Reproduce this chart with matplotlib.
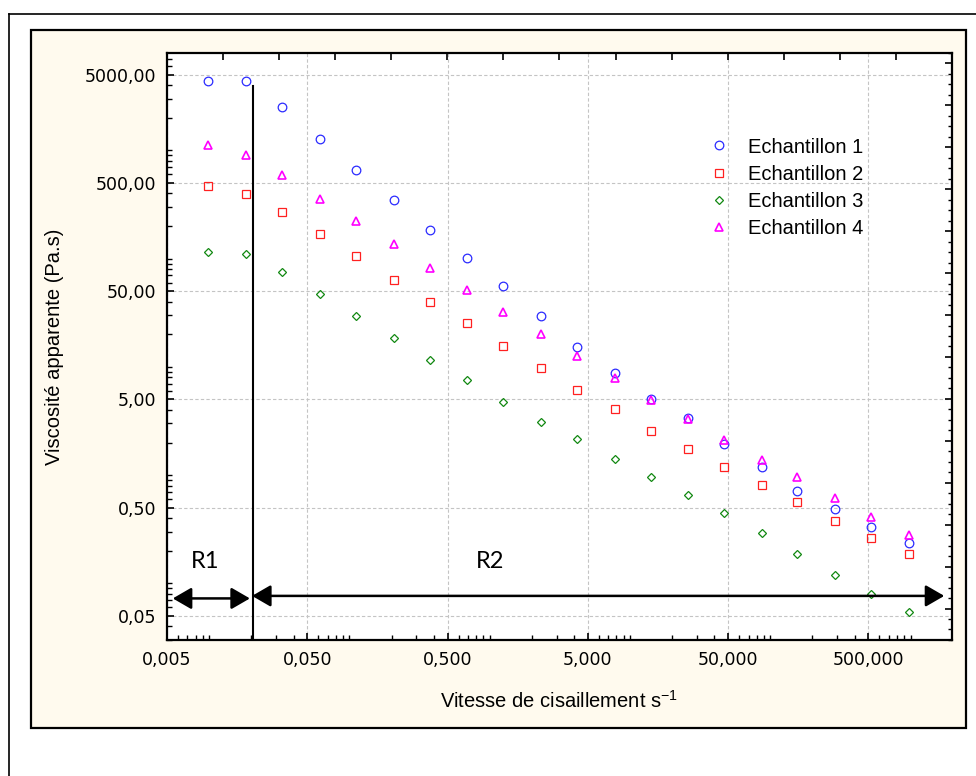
import matplotlib.pyplot as plt
from matplotlib.ticker import FixedLocator, FixedFormatter, LogLocator, NullFormatter
from matplotlib.patches import Rectangle
from matplotlib.lines import Line2D

# vitesse de cisaillement (s-1)
shear = [0.0098, 0.0184, 0.0331, 0.0615, 0.111, 0.207, 0.372, 0.693, 1.24, 2.32,
         4.18, 7.76, 14.0, 26.1, 46.9, 86.9, 156, 291, 523, 975]

# viscosite apparente (Pa.s)
ech1 = [4370, 4370, 2530, 1281, 652, 345, 184, 101, 56.1, 29.6,
        15.1, 8.75, 5.03, 3.40, 1.94, 1.18, 0.719, 0.487, 0.332, 0.235]
ech2 = [468, 395, 269, 170, 105.5, 63.7, 39.9, 25.2, 15.6, 9.86,
        6.17, 4.07, 2.55, 1.74, 1.19, 0.812, 0.560, 0.380, 0.261, 0.186]
ech3 = [115, 110, 75.6, 47.3, 29.6, 18.6, 11.6, 7.64, 4.78, 3.12,
        2.15, 1.41, 0.963, 0.657, 0.448, 0.294, 0.185, 0.120, 0.079, 0.054]
ech4 = [1111, 898, 592, 357, 224, 135, 81.8, 51.2, 32.0, 20.1,
        12.65, 7.97, 4.99, 3.31, 2.10, 1.39, 0.953, 0.620, 0.408, 0.278]

labels = ["Echantillon 1", "Echantillon 2", "Echantillon 3", "Echantillon 4"]

xticks = [0.005, 0.05, 0.5, 5, 50, 500]
xticklabels = ["0,005", "0,050", "0,500", "5,000", "50,000", "500,000"]
yticks = [0.05, 0.5, 5, 50, 500, 5000]
yticklabels = ["0,05", "0,50", "5,00", "50,00", "500,00", "5000,00"]
xlim = (0.005, 1975)
ylim = (0.0300, 7930)

# limite entre les regions R1 et R2
boundary_x = 0.0204
boundary_top = 3900
r1_span = (0.0055, 0.0195)
r2_span = (0.0202, 1740)
r1_y = 0.0726
r2_y = 0.0766
text_y = 0.158
r1_text_x = 0.0093
r2_text_x = 1.0

plt.rcParams['font.family'] = ['Liberation Sans', 'DejaVu Sans']

fig = plt.figure(figsize=(9.76, 7.76), dpi=100)
fig.patch.set_facecolor('white')

# cadre de la page et fond creme
fig.add_artist(Line2D([0.0095, 1.0], [0.9826, 0.9826], transform=fig.transFigure,
                      color='black', lw=1.2))
fig.add_artist(Line2D([0.0095, 0.0095], [0.0, 0.9826], transform=fig.transFigure,
                      color='black', lw=1.2))
fig.add_artist(Rectangle((0.0318, 0.0619), 0.958, 0.8995, transform=fig.transFigure,
                         facecolor='#FFFAEE', edgecolor='black', lw=1.6, zorder=-5))

ax = fig.add_axes([0.1711, 0.1753, 0.8043, 0.7564])
ax.set_facecolor('white')
ax.set_xscale('log')
ax.set_yscale('log')
ax.set_xlim(*xlim)
ax.set_ylim(*ylim)

ms_kw = dict(linestyle='none', markerfacecolor='none')
ax.plot(shear, ech1, marker='o', markersize=6.2, markeredgecolor='#2B2BFF',
        markeredgewidth=0.9, label=labels[0], **ms_kw)
ax.plot(shear, ech2, marker='s', markersize=6, markeredgecolor='#FF2020',
        markeredgewidth=0.9, label=labels[1], **ms_kw)
ax.plot(shear, ech3, marker='D', markersize=3.8, markeredgecolor='#118811',
        markeredgewidth=0.9, label=labels[2], **ms_kw)
ax.plot(shear, ech4, marker='^', markersize=6, markeredgecolor='#FF00FF',
        markeredgewidth=1.2, label=labels[3], **ms_kw)

# ligne verticale et fleches R1 / R2
ax.plot([boundary_x, boundary_x], [ylim[0], boundary_top], color='black', lw=1.5)
arrow = dict(arrowstyle='<|-|>,head_length=0.95,head_width=0.55', color='black',
             lw=1.8, mutation_scale=12, shrinkA=0, shrinkB=0)
ax.annotate('', xy=(r1_span[1], r1_y), xytext=(r1_span[0], r1_y), arrowprops=arrow)
ax.annotate('', xy=(r2_span[1], r2_y), xytext=(r2_span[0], r2_y), arrowprops=arrow)
ax.text(r1_text_x, text_y, 'R1', fontsize=17, family='Lato', ha='center', va='center')
ax.text(r2_text_x, text_y, 'R2', fontsize=17, family='Lato', ha='center', va='center')

ax.xaxis.set_major_locator(FixedLocator(xticks))
ax.xaxis.set_major_formatter(FixedFormatter(xticklabels))
ax.yaxis.set_major_locator(FixedLocator(yticks))
ax.yaxis.set_major_formatter(FixedFormatter(yticklabels))
ax.xaxis.set_minor_locator(LogLocator(base=10, subs=range(1, 10), numticks=50))
ax.yaxis.set_minor_locator(LogLocator(base=10, subs=range(1, 10), numticks=50))
ax.xaxis.set_minor_formatter(NullFormatter())
ax.yaxis.set_minor_formatter(NullFormatter())
ax.tick_params(which='major', direction='in', length=5, width=1.2, pad=8,
               labelsize=12.5, top=False, right=False)
ax.tick_params(which='minor', direction='in', length=3.5, width=1.0,
               top=False, right=False)
for lab in ax.get_xticklabels() + ax.get_yticklabels():
    lab.set_family('DejaVu Sans')

ax.grid(True, which='major', color='#C4C4C4', linestyle=(0, (3, 2)), lw=0.8)
for s in ax.spines.values():
    s.set_linewidth(1.6)

ax.set_xlabel('Vitesse de cisaillement s$^{\\mathregular{-1}}$', fontsize=14.5)
ax.set_ylabel('Viscosité apparente (Pa.s)', fontsize=14.5)
ax.xaxis.label.set_va('center')
ax.yaxis.label.set_va('center')
ax.xaxis.set_label_coords(0.5, -0.104)
ax.yaxis.set_label_coords(-0.1427, 0.5)

ax.legend(loc='upper left', bbox_to_anchor=(0.690, 0.856), frameon=False,
          fontsize=14.5, handlelength=1.0, handletextpad=0.95, labelspacing=0.4,
          borderaxespad=0, borderpad=0)

# graduations regulieres du haut et de droite
ax2 = fig.add_axes(ax.get_position(), facecolor='none')
ax2.set_xlim(0, 14)
ax2.set_ylim(0, 56)
ax2.xaxis.tick_top()
ax2.yaxis.tick_right()
ax2.set_xticks(range(0, 15))
ax2.set_yticks(range(3, 56, 4))
ax2.set_yticks(range(0, 57), minor=True)
ax2.tick_params(which='major', direction='in', length=5, width=1.2,
                labeltop=False, labelright=False)
ax2.tick_params(which='minor', direction='in', length=3, width=1.0)
for s in ax2.spines.values():
    s.set_visible(False)

fig.savefig('out.png', dpi=100)
